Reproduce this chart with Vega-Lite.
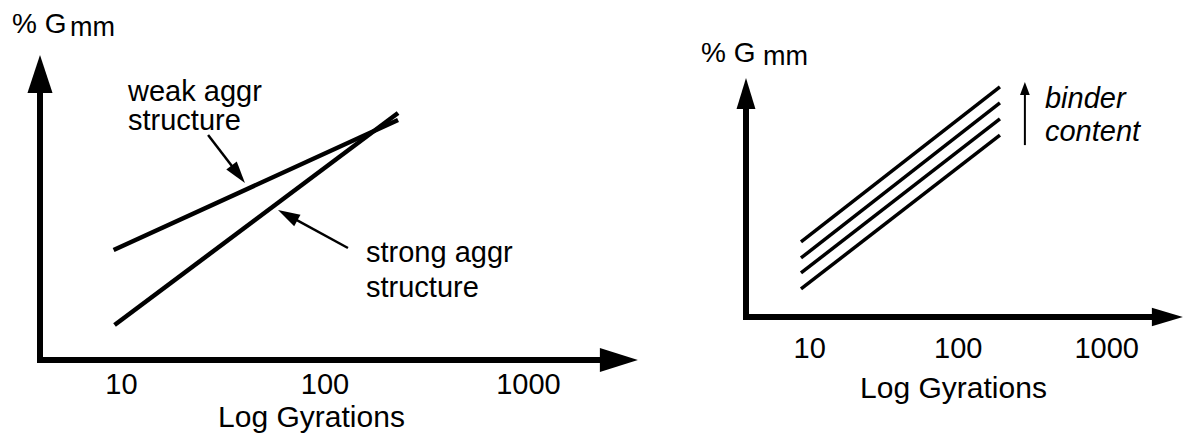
{
  "$schema": "https://vega.github.io/schema/vega-lite/v6.json",
  "width": 1185,
  "height": 434,
  "autosize": {"type": "none"},
  "padding": 0,
  "background": "white",
  "config": {
    "view": {"stroke": null},
    "font": "Liberation Sans",
    "axis": {"labelColor": "black", "titleColor": "black", "labelFont": "Liberation Sans", "titleFont": "Liberation Sans", "titleFontWeight": "normal", "domain": false, "ticks": false, "tickSize": 0, "grid": false, "labelFlush": false, "labelOverlap": false, "labelBaseline": "alphabetic", "titleBaseline": "alphabetic", "titleAlign": "center", "format": "d"}
  },
  "layer": [
    {
      "encoding": {
        "x": {"field": "x", "type": "quantitative", "scale": {"type": "log", "domain": [4, 3000], "range": [40, 625], "nice": false, "zero": false},
          "axis": {"orient": "bottom", "offset": -74, "values": [10, 100, 1000], "format": "d", "labelFontSize": 29, "labelPadding": 33, "title": "Log Gyrations", "titleFontSize": 30, "titleX": 311, "titleY": 66}},
        "y": {"field": "y", "type": "quantitative", "scale": {"domain": [0, 100], "range": [360, 45], "nice": false, "zero": false}, "axis": null}
      },
      "layer": [
        {
          "data": {"values": [{"x": 4, "y": 0, "x2": 4, "y2": 90.8}, {"x": 4, "y": 0, "x2": 2800, "y2": 0}]},
          "mark": {"type": "rule", "strokeWidth": 6, "strokeCap": "square", "color": "black"},
          "encoding": {"x2": {"field": "x2"}, "y2": {"field": "y2"}}
        },
        {
          "data": {"values": [{"x": 4, "y": 90.8}]},
          "mark": {"type": "point", "filled": true, "shape": "M0,-1L0.66,1L-0.66,1Z", "size": 1444, "color": "black", "opacity": 1}
        },
        {
          "data": {"values": [{"x": 2800, "y": 0}]},
          "mark": {"type": "point", "filled": true, "shape": "M1,0L-1,-0.63L-1,0.63Z", "size": 1444, "color": "black", "opacity": 1}
        },
        {
          "data": {"values": [
            {"series": "weak aggr structure", "x": 9.2, "y": 34.9},
            {"series": "weak aggr structure", "x": 230, "y": 76.2},
            {"series": "strong aggr structure", "x": 9.3, "y": 11.1},
            {"series": "strong aggr structure", "x": 230, "y": 78.4}
          ]},
          "mark": {"type": "line", "strokeWidth": 4.5, "color": "black"},
          "encoding": {"detail": {"field": "series", "type": "nominal"}}
        },
        {
          "data": {"values": [{"x": 26.8, "y": 71.4, "x2": 37.7, "y2": 58.95}, {"x": 130.5, "y": 35.56, "x2": 65.96, "y2": 45.97}]},
          "mark": {"type": "rule", "strokeWidth": 2.5, "color": "black"},
          "encoding": {"x2": {"field": "x2"}, "y2": {"field": "y2"}}
        },
        {
          "data": {"values": [{"x": 37.7, "y": 58.95}]},
          "mark": {"type": "point", "filled": true, "shape": "M0,-1L0.6,1L-0.6,1Z", "size": 484, "angle": 142.4, "color": "black", "opacity": 1}
        },
        {
          "data": {"values": [{"x": 65.96, "y": 45.97}]},
          "mark": {"type": "point", "filled": true, "shape": "M0,-1L0.6,1L-0.6,1Z", "size": 484, "angle": 298.5, "color": "black", "opacity": 1}
        },
        {
          "data": {"values": [
            {"x": 10.83, "y": 82.2, "text": "weak aggr"},
            {"x": 10.83, "y": 73.0, "text": "structure"},
            {"x": 160, "y": 31.1, "text": "strong aggr"},
            {"x": 160, "y": 20.0, "text": "structure"}
          ]},
          "mark": {"type": "text", "align": "left", "baseline": "alphabetic", "fontSize": 29, "color": "black"},
          "encoding": {"text": {"field": "text"}}
        },
        {
          "data": {"values": [{"x": 2.914, "y": 103.8, "text": "% G"}]},
          "mark": {"type": "text", "align": "left", "baseline": "alphabetic", "fontSize": 28, "color": "black"},
          "encoding": {"text": {"field": "text"}}
        },
        {
          "data": {"values": [{"x": 5.62, "y": 102.9, "text": "mm"}]},
          "mark": {"type": "text", "align": "left", "baseline": "alphabetic", "fontSize": 27, "color": "black"},
          "encoding": {"text": {"field": "text"}}
        }
      ]
    },
    {
      "encoding": {
        "x": {"field": "x", "type": "quantitative", "scale": {"type": "log", "domain": [3.75, 3000], "range": [746, 1177], "nice": false, "zero": false},
          "axis": {"orient": "bottom", "offset": -117, "values": [10, 100, 1000], "format": "d", "labelFontSize": 29, "labelPadding": 40, "title": "Log Gyrations", "titleFontSize": 30, "titleX": 953, "titleY": 80}},
        "y": {"field": "y", "type": "quantitative", "scale": {"domain": [0, 100], "range": [317, 45], "nice": false, "zero": false}, "axis": null}
      },
      "layer": [
        {
          "data": {"values": [{"x": 3.75, "y": 0, "x2": 3.75, "y2": 82.2}, {"x": 3.75, "y": 0, "x2": 2584, "y2": 0}]},
          "mark": {"type": "rule", "strokeWidth": 6, "strokeCap": "square", "color": "black"},
          "encoding": {"x2": {"field": "x2"}, "y2": {"field": "y2"}}
        },
        {
          "data": {"values": [{"x": 3.75, "y": 82.2}]},
          "mark": {"type": "point", "filled": true, "shape": "M0,-1L0.61,1L-0.61,1Z", "size": 961, "color": "black", "opacity": 1}
        },
        {
          "data": {"values": [{"x": 2584, "y": 0}]},
          "mark": {"type": "point", "filled": true, "shape": "M1,0L-1,-0.6L-1,0.6Z", "size": 961, "color": "black", "opacity": 1}
        },
        {
          "data": {"values": [
            {"series": "1", "x": 8.8, "y": 10.3},
            {"series": "1", "x": 192.5, "y": 66.9},
            {"series": "2", "x": 8.8, "y": 16.2},
            {"series": "2", "x": 192.5, "y": 72.8},
            {"series": "3", "x": 8.8, "y": 21.7},
            {"series": "3", "x": 192.5, "y": 78.7},
            {"series": "4", "x": 8.8, "y": 27.6},
            {"series": "4", "x": 192.5, "y": 84.6}
          ]},
          "mark": {"type": "line", "strokeWidth": 3.5, "color": "black"},
          "encoding": {"detail": {"field": "series", "type": "nominal"}}
        },
        {
          "data": {"values": [{"x": 283.5, "y": 63.2, "x2": 283.5, "y2": 84.0}]},
          "mark": {"type": "rule", "strokeWidth": 2, "color": "black"},
          "encoding": {"x2": {"field": "x2"}, "y2": {"field": "y2"}}
        },
        {
          "data": {"values": [{"x": 283.5, "y": 84.0}]},
          "mark": {"type": "point", "filled": true, "shape": "M0,-1L0.75,1L-0.75,1Z", "size": 169, "color": "black", "opacity": 1}
        },
        {
          "data": {"values": [{"x": 387, "y": 76.8, "text": "binder"}, {"x": 387, "y": 64.7, "text": "content"}]},
          "mark": {"type": "text", "align": "left", "baseline": "alphabetic", "fontSize": 29, "fontStyle": "italic", "color": "black"},
          "encoding": {"text": {"field": "text"}}
        },
        {
          "data": {"values": [{"x": 1.866, "y": 93.75, "text": "% G"}]},
          "mark": {"type": "text", "align": "left", "baseline": "alphabetic", "fontSize": 28, "color": "black"},
          "encoding": {"text": {"field": "text"}}
        },
        {
          "data": {"values": [{"x": 4.88, "y": 92.6, "text": "mm"}]},
          "mark": {"type": "text", "align": "left", "baseline": "alphabetic", "fontSize": 27, "color": "black"},
          "encoding": {"text": {"field": "text"}}
        }
      ]
    }
  ],
  "resolve": {"scale": {"x": "independent", "y": "independent"}, "axis": {"x": "independent", "y": "independent"}}
}
